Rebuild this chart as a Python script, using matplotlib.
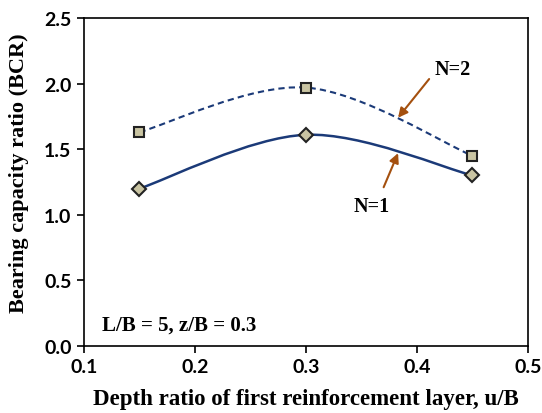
import matplotlib
matplotlib.use("Agg")
import matplotlib.pyplot as plt
import numpy as np
from matplotlib.path import Path
from matplotlib.patches import PathPatch

# data
depth = [0.15, 0.30, 0.45]
bcr_n1 = [1.20, 1.61, 1.30]
bcr_n2 = [1.63, 1.97, 1.45]

line_col = "#1B3A78"
face_col = "#C9C4A2"
arrow_col = "#A4500F"


def smooth_path(x, y):
    # Excel-like smoothed line: Catmull-Rom as cubic Bezier segments
    pts = np.column_stack([x, y])
    verts = [pts[0]]
    codes = [Path.MOVETO]
    n = len(pts)
    for i in range(n - 1):
        p0 = pts[max(i - 1, 0)]
        p1 = pts[i]
        p2 = pts[i + 1]
        p3 = pts[min(i + 2, n - 1)]
        c1 = p1 + (p2 - p0) / 6.0
        c2 = p2 - (p3 - p1) / 6.0
        verts += [c1, c2, p2]
        codes += [Path.CURVE4] * 3
    return Path(verts, codes)


fig = plt.figure(figsize=(5.42, 4.14), dpi=100)
ax = fig.add_axes([0.155, 0.162, 0.819, 0.792])

ax.add_patch(PathPatch(smooth_path(depth, bcr_n1), fill=False, ec=line_col, lw=1.8))
ax.add_patch(PathPatch(smooth_path(depth, bcr_n2), fill=False, ec=line_col, lw=1.5,
                       ls=(0, (3, 2))))
ax.plot(depth, bcr_n1, ls="none", marker="D", ms=7, mfc=face_col, mec="#222222", mew=1.5)
ax.plot(depth, bcr_n2, ls="none", marker="s", ms=7, mfc=face_col, mec="#222222", mew=1.5)

ax.set_xlim(0.1, 0.5)
ax.set_ylim(0, 2.5)
ax.set_xticks([0.1, 0.2, 0.3, 0.4, 0.5])
ax.set_yticks([0.0, 0.5, 1.0, 1.5, 2.0, 2.5])
ax.set_xticklabels(["0.1", "0.2", "0.3", "0.4", "0.5"])
ax.set_yticklabels(["0.0", "0.5", "1.0", "1.5", "2.0", "2.5"])
ax.tick_params(direction="out", length=5, width=1.2, labelsize=14, pad=4)
for lab in ax.get_xticklabels() + ax.get_yticklabels():
    lab.set_fontfamily("Lato")
    lab.set_fontweight("bold")
for s in ax.spines.values():
    s.set_linewidth(1.2)

ax.set_xlabel("Depth ratio of first reinforcement layer, u/B", family="Liberation Serif",
              fontweight="bold", fontsize=16.5, labelpad=9)
ax.set_ylabel("Bearing capacity ratio (BCR)", family="Liberation Serif",
              fontweight="bold", fontsize=16)
ax.yaxis.set_label_coords(-0.124, 0.53)

ax.annotate("", xy=(0.383, 1.74), xytext=(0.411, 2.035),
            arrowprops=dict(arrowstyle="-|>", color=arrow_col, lw=1.5, mutation_scale=14,
                            shrinkA=0, shrinkB=0))
ax.annotate("", xy=(0.383, 1.47), xytext=(0.370, 1.21),
            arrowprops=dict(arrowstyle="-|>", color=arrow_col, lw=1.5, mutation_scale=14,
                            shrinkA=0, shrinkB=0))
ax.text(0.432, 2.11, "N=2", family="Liberation Serif", fontweight="bold", fontsize=14.5,
        ha="center", va="center")
ax.text(0.359, 1.067, "N=1", family="Liberation Serif", fontweight="bold", fontsize=14.5,
        ha="center", va="center")
ax.text(0.116, 0.16, "L/B = 5, z/B = 0.3", family="Liberation Serif", fontweight="bold",
        fontsize=15, ha="left", va="center")

fig.savefig("out.png", dpi=100)
